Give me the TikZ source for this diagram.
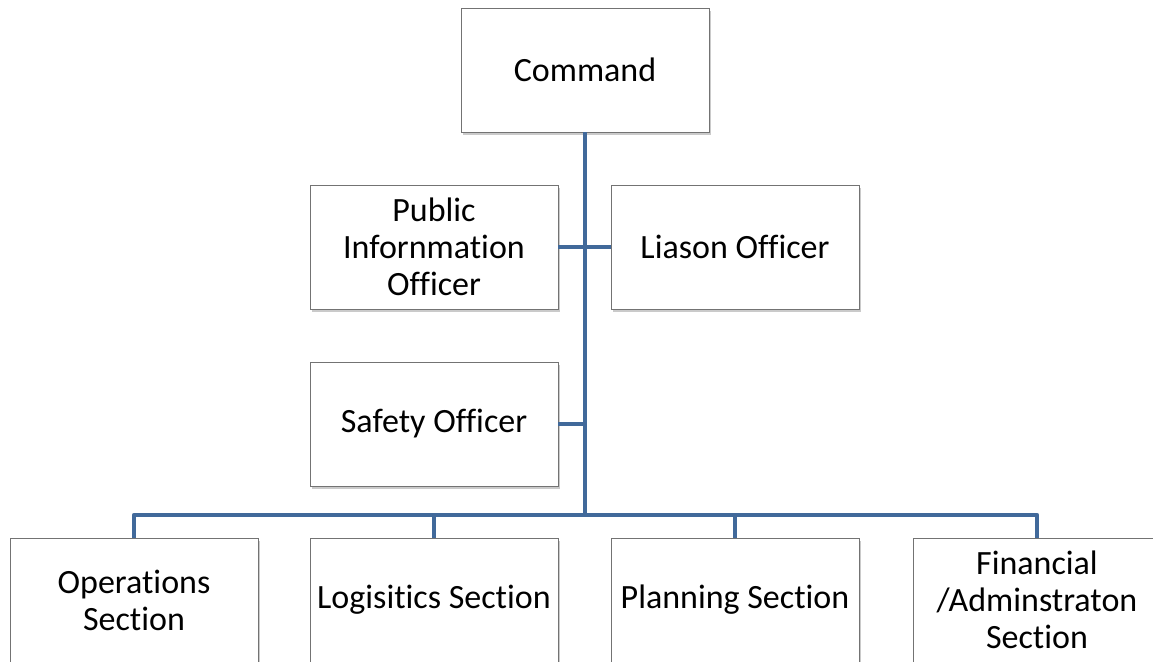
\documentclass[tikz,border=0pt]{standalone}
\usepackage{fontspec}
\setmainfont{Carlito}[Ligatures=NoCommon]
\usetikzlibrary{shadows}
\definecolor{orgblue}{RGB}{65,105,154}

\begin{document}
\begin{tikzpicture}[x=1pt,y=-1pt]
\tikzset{node distance=301pt,
    box/.style={rectangle, draw=black!55, fill=white, line width=0.8pt,
        minimum width=248pt, minimum height=124pt, align=center,
        font=\fontsize{34}{37}\selectfont,
        drop shadow={shadow xshift=2pt, shadow yshift=-3pt, opacity=0.35, fill=black!60}},
    link/.style={draw=orgblue, line width=4.5pt}
}
  \useasboundingbox (0,0) rectangle (1153,661);
  \clip (0,0) rectangle (1153,661);

  \coordinate (cmdpt) at (585,70);
  \coordinate (bus) at (585,515);
  \coordinate (opspt) at (134,600);
  \coordinate (safy) at (585,424);

  \node[box] (cmd) at (cmdpt) {Command};
  \node[box] (pio) at (434,247) {Public\\Infornmation\\Officer};
  \node[box, right of=pio] (lia) {Liason Officer};
  \node[box, below of=pio, node distance=177pt] (saf) {Safety Officer};
  \node[box] (ops) at (opspt) {Operations\\Section};
  \node[box, right of=ops, node distance=300pt] (log) {Logisitics Section};
  \node[box, right of=log] (pla) {Planning Section};
  \node[box, right of=pla, node distance=302pt] (fin) {Financial\\/Adminstraton\\Section};

  % connectors
  \draw[link] (cmd.south) -- (bus);
  \draw[link] (pio.east) -- (lia.west);
  \draw[link] (saf.east) -- (safy);
  \draw[link, line join=round] (ops.north) |- (bus) -| (fin.north);
  \draw[link] (log.north) -- (log.north |- bus);
  \draw[link] (pla.north) -- (pla.north |- bus);
\end{tikzpicture}
\end{document}
